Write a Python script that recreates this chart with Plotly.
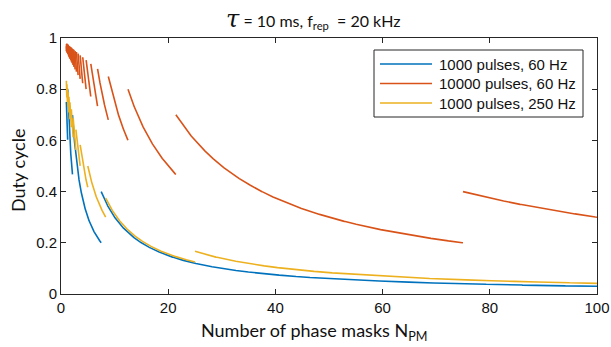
import numpy as np
import plotly.graph_objects as go

tau_ms = 10.0          # tau = 10 ms
f_rep_khz = 20.0       # f_rep = 20 kHz
series_names = ["1000 pulses, 60 Hz", "10000 pulses, 60 Hz", "1000 pulses, 250 Hz"]
series_pulses = [1000, 10000, 1000]
series_slm_hz = [60, 60, 250]
series_colors = ["#0072BD", "#D95319", "#EDB120"]
n_masks = np.linspace(1, 100, 19801)
x_ticks = [0, 20, 40, 60, 80, 100]
y_ticks = [0, 0.2, 0.4, 0.6, 0.8, 1]

W, H = 611, 347
L, R, T, B = 61, 14, 38, 53
PW, PH = W - L - R, H - T - B


def px(x):
    return (x - L) / PW


def py(y):
    return (H - B - y) / PH


def duty_cycle(pulses, slm_hz):
    t_exp = pulses / f_rep_khz / n_masks          # ms of exposure per mask
    frame = 1000.0 / slm_hz                       # ms per SLM frame
    frames = np.ceil((t_exp + tau_ms) / frame - 1e-12)
    d = t_exp / (frames * frame)
    xs, ys = [], []
    for i in range(len(n_masks)):
        if i > 0 and frames[i] != frames[i - 1]:
            xs.append(None)
            ys.append(None)
        xs.append(float(n_masks[i]))
        ys.append(float(d[i]))
    return xs, ys


fig = go.Figure()
for name, p, f, c in zip(series_names, series_pulses, series_slm_hz, series_colors):
    xs, ys = duty_cycle(p, f)
    fig.add_trace(go.Scatter(x=xs, y=ys, mode="lines", name=name,
                             line=dict(color=c, width=1.6), showlegend=False,
                             connectgaps=False))

axis_col = "#262626"
common = dict(showline=True, linecolor=axis_col, linewidth=1, mirror="ticks",
              ticks="inside", ticklen=5, tickcolor=axis_col, tickwidth=1,
              showgrid=False, zeroline=False, automargin=False,
              tickfont=dict(family="Liberation Sans, Arial", size=15, color="#111111"))
fig.update_xaxes(range=[0, 100], tickvals=x_ticks, ticktext=[str(v) for v in x_ticks], **common)
fig.update_yaxes(range=[0, 1], tickvals=y_ticks, ticktext=[f"{v:g}" for v in y_ticks], **common)

ann = []
# title
ann.append(dict(xref="paper", yref="paper", x=px(313), y=py(19), xanchor="center", yanchor="middle",
                showarrow=False,
                text="<span style='font-size:24px;font-family:DejaVu Serif;font-style:italic'>τ</span> = 10 ms, f<sub>rep</sub>  = 20 kHz",
                font=dict(family="Lato", size=16, color="#111111")))
# axis titles
ann.append(dict(xref="paper", yref="paper", x=px(314), y=py(331), xanchor="center", yanchor="middle",
                showarrow=False, text="Number of phase masks N<sub>PM</sub>",
                font=dict(family="Lato", size=18, color="#111111")))
ann.append(dict(xref="paper", yref="paper", x=px(18), y=py(171), xanchor="center", yanchor="middle",
                showarrow=False, text="Duty cycle", textangle=-90,
                font=dict(family="Lato", size=18, color="#111111")))

shapes = []
# manual legend
shapes.append(dict(type="rect", xref="paper", yref="paper", x0=px(374), x1=px(583), y0=py(117), y1=py(50),
                   line=dict(color=axis_col, width=1), fillcolor="white", layer="above"))
rows = [64, 83.5, 103]
for name, c, ry in zip(series_names, series_colors, rows):
    shapes.append(dict(type="line", xref="paper", yref="paper", x0=px(380), x1=px(432), y0=py(ry), y1=py(ry),
                       line=dict(color=c, width=1.6), layer="above"))
    ann.append(dict(xref="paper", yref="paper", x=px(437), y=py(ry), xanchor="left", yanchor="middle",
                    showarrow=False, text=name,
                    font=dict(family="Liberation Sans, Arial", size=15, color="#111111")))

fig.update_layout(width=W, height=H, margin=dict(l=L, r=R, t=T, b=B, autoexpand=False),
                  paper_bgcolor="white", plot_bgcolor="white",
                  annotations=ann, shapes=shapes, showlegend=False)

fig.write_html("out.html")
